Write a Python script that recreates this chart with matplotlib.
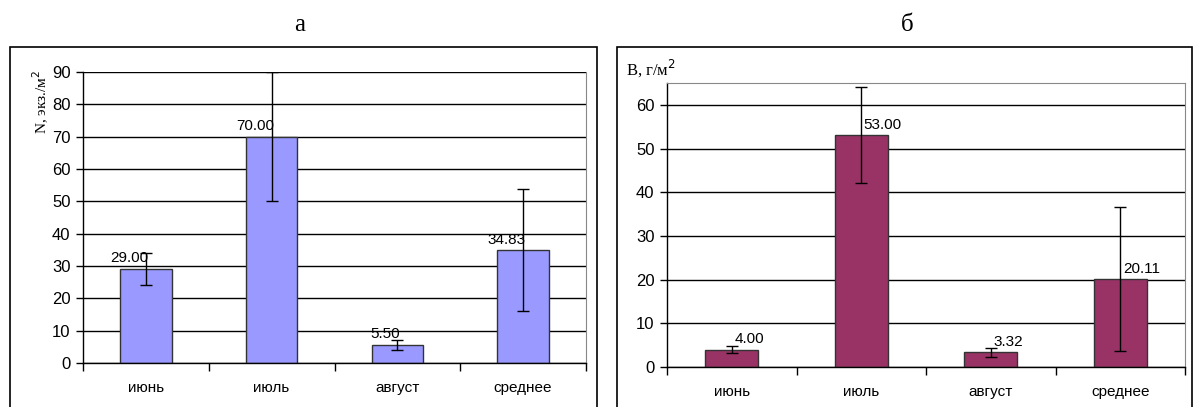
import numpy as np
import matplotlib.pyplot as plt
from matplotlib.patches import Rectangle

months = ["июнь", "июль", "август", "среднее"]

n_vals = [29.00, 70.00, 5.50, 34.83]
n_err = [5.0, 20.0, 1.5, 18.9]

b_vals = [4.00, 53.00, 3.32, 20.11]
b_err = [0.9, 11.0, 1.1, 16.5]

W, H = 1193, 407
fig = plt.figure(figsize=(W / 100, H / 100), dpi=100)
plt.rcParams['font.family'] = ['Liberation Sans', 'DejaVu Sans']

# outer frames of both charts
for x0, x1 in [(10, 597), (617, 1192)]:
    fig.patches.append(Rectangle((x0 / W, -0.05), (x1 - x0) / W, (H + 20 - 47) / H,
                                 transform=fig.transFigure, fill=False,
                                 edgecolor="black", linewidth=1.2))

serif = ['Liberation Serif', 'DejaVu Serif']
fig.text(300 / W, 1 - 25 / H, "а", ha="center", va="center", fontsize=18, family=serif)
fig.text(907 / W, 1 - 25 / H, "б", ha="center", va="center", fontsize=18, family=serif)


def draw(ax, vals, errs, color, ymax, label_side):
    x = np.arange(len(vals))
    ax.bar(x, vals, width=0.41, color=color, edgecolor="#333333", linewidth=1, zorder=2)
    ax.errorbar(x, vals, yerr=errs, fmt="none", ecolor="black", elinewidth=1,
                capsize=4, capthick=1, zorder=3)
    for xi, v in zip(x, vals):
        if label_side == "left":
            ax.text(xi + 0.02, v + 1.2, f"{v:.2f}", ha="right", va="bottom", fontsize=11)
        else:
            ax.text(xi + 0.02, v + 0.8, f"{v:.2f}", ha="left", va="bottom", fontsize=11)
    ax.set_xlim(-0.5, len(vals) - 0.5)
    ax.set_ylim(0, ymax)
    ax.yaxis.grid(True, color="black", linewidth=1, zorder=0)
    ax.set_axisbelow(True)
    ax.set_xticks(x)
    ax.set_xticklabels(months, fontsize=11)
    ax.set_xticks(np.arange(-0.5, len(vals)), minor=True)
    ax.tick_params(axis="x", which="major", length=0, pad=13)
    ax.tick_params(axis="x", which="minor", length=6, width=1)
    ax.tick_params(axis="y", length=5, width=1, labelsize=12, pad=4)
    for s in ["top", "right"]:
        ax.spines[s].set_color("#888888")
    ax.spines["left"].set_linewidth(1)
    ax.spines["bottom"].set_linewidth(1)


ax1 = fig.add_axes([83 / W, 1 - 363 / H, 503 / W, 291 / H])
draw(ax1, n_vals, n_err, "#9999FF", 90, "left")
ax1.set_yticks(range(0, 91, 10))
ax1.spines["top"].set_visible(False)

fig.text(41 / W, 1 - 102 / H, "N, экз./м$^2$", rotation=90, ha="center", va="center",
         fontsize=11, family=serif)

ax2 = fig.add_axes([667 / W, 1 - 367 / H, 518 / W, 284 / H])
draw(ax2, b_vals, b_err, "#993366", 65, "right")
ax2.set_yticks(range(0, 61, 10))

fig.text(626 / W, 1 - 68 / H, "B, г/м$^2$", ha="left", va="center", fontsize=12, family=serif)

fig.savefig("out.png", dpi=100)
